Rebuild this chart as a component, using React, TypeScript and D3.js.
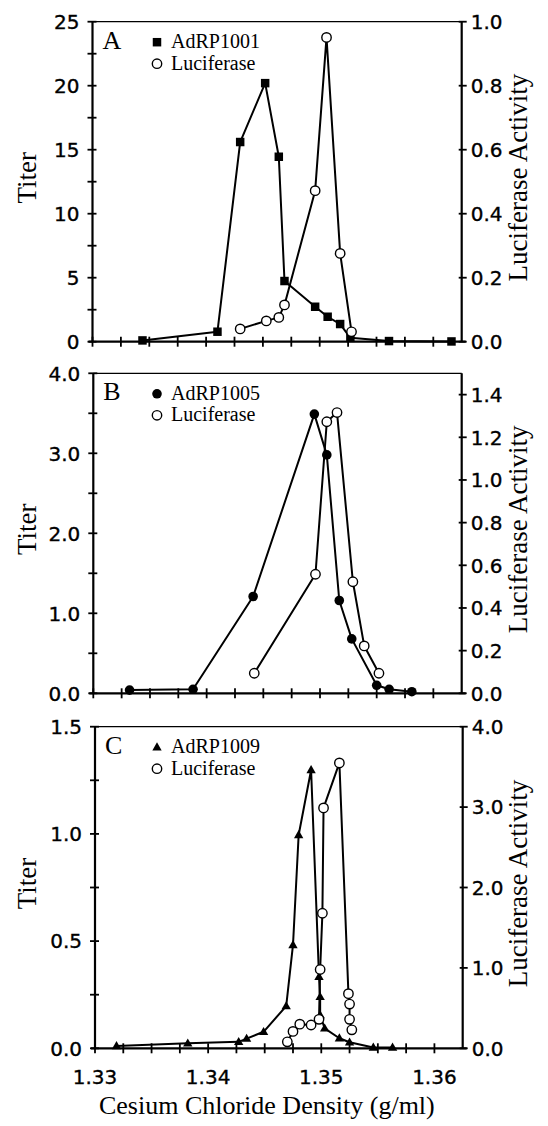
import React from "react";
import * as d3 from "d3";

// ---------- data ----------
// Panel A
const densityA_virus = [1.3344, 1.341, 1.343, 1.3452, 1.3464, 1.3469, 1.3496, 1.3507, 1.3518, 1.3527, 1.3561, 1.3616];
const titerA_virus = [0.1, 0.78, 15.6, 20.2, 14.45, 4.74, 2.73, 1.95, 1.38, 0.3, 0.05, 0.02];
const densityA_luc = [1.343, 1.3453, 1.3464, 1.3469, 1.3496, 1.3506, 1.3518, 1.3528];
const activityA_luc = [0.04, 0.065, 0.076, 0.115, 0.472, 0.951, 0.276, 0.031];

// Panel B
const densityB_virus = [1.3332, 1.3388, 1.3441, 1.3495, 1.3506, 1.3517, 1.3528, 1.355, 1.3561, 1.3581];
const titerB_virus = [0.04, 0.05, 1.21, 3.49, 2.98, 1.16, 0.68, 0.1, 0.05, 0.02];
const densityB_luc = [1.3442, 1.3496, 1.3506, 1.3515, 1.3529, 1.3539, 1.3552];
const activityB_luc = [0.094, 0.558, 1.273, 1.316, 0.523, 0.222, 0.094];

// Panel C
const densityC_virus = [1.3319, 1.3382, 1.3427, 1.3434, 1.3449, 1.3469, 1.3475, 1.348, 1.3491, 1.3498, 1.3499, 1.3499, 1.3503, 1.3516, 1.3525, 1.3546, 1.3563];
const titerC_virus = [0.011, 0.023, 0.03, 0.045, 0.077, 0.197, 0.482, 0.995, 1.298, 0.334, 0.24, 0.155, 0.093, 0.047, 0.028, 0.004, 0.004];
const densityC_luc = [1.347, 1.3475, 1.3481, 1.3491, 1.3498, 1.3499, 1.3501, 1.3502, 1.3516, 1.3524, 1.3525, 1.3525, 1.3527];
const activityC_luc = [0.08, 0.21, 0.3, 0.29, 0.36, 0.98, 1.68, 2.99, 3.55, 0.68, 0.55, 0.36, 0.23];

const panelLetters = ["A", "B", "C"];
const virusNames = ["AdRP1001", "AdRP1005", "AdRP1009"];
const lucName = "Luciferase";
const xTickLabels = ["1.33", "1.34", "1.35", "1.36"];
const xDomain = [1.33, 1.3625];
const leftDomains = [[0, 25], [0, 4], [0, 1.5]];
const leftMajor = [[0, 5, 10, 15, 20, 25], [0, 1, 2, 3, 4], [0, 0.5, 1, 1.5]];
const leftMinorStep = [2.5, 0.5, 0.25];
const leftFmt = ["d", ".1f", ".1f"];
const rightDomains = [[0, 1], [0, 1.5], [0, 4]];
const rightMajor = [[0, 0.2, 0.4, 0.6, 0.8, 1.0], [0, 0.2, 0.4, 0.6, 0.8, 1.0, 1.2, 1.4], [0, 1, 2, 3, 4]];
const markerTypes = ["square", "dot", "triangle"];

const xAxisTitle = "Cesium Chloride Density (g/ml)";
const yLeftTitle = "Titer";
const yRightTitle = "Luciferase Activity";

// ---------- layout ----------
const frames = [
  { left: 92.5, right: 461.7, top: 21.7, bottom: 341.7 },
  { left: 93.3, right: 461.7, top: 373.3, bottom: 693.3 },
  { left: 95, right: 462.7, top: 726.7, bottom: 1048.3 },
];

const series = [
  { vx: densityA_virus, vy: titerA_virus, lx: densityA_luc, ly: activityA_luc },
  { vx: densityB_virus, vy: titerB_virus, lx: densityB_luc, ly: activityB_luc },
  { vx: densityC_virus, vy: titerC_virus, lx: densityC_luc, ly: activityC_luc },
];

const SANS = "'DejaVu Sans', sans-serif";
const SERIF = "'Liberation Serif', 'Times New Roman', serif";

function Marker({ type, x, y }: { type: string; x: number; y: number }) {
  if (type === "square") {
    return <path d={d3.symbol(d3.symbolSquare, 72)()!} transform={`translate(${x},${y})`} fill="#000" />;
  }
  if (type === "triangle") {
    return <path d={d3.symbol(d3.symbolTriangle, 38)()!} transform={`translate(${x},${y + 0.5})`} fill="#000" />;
  }
  if (type === "dot") {
    return <circle cx={x} cy={y} r={4.8} fill="#000" />;
  }
  return <circle cx={x} cy={y} r={4.7} fill="#fff" stroke="#000" strokeWidth={1.4} />;
}

function Panel({ i }: { i: number }) {
  const f = frames[i];
  const s = series[i];
  const x = d3.scaleLinear().domain(xDomain).range([f.left, f.right]);
  const yl = d3.scaleLinear().domain(leftDomains[i]).range([f.bottom, f.top]);
  const yr = d3.scaleLinear().domain(rightDomains[i]).range([f.bottom, f.top]);
  const line = d3.line<[number, number]>().x((d) => d[0]).y((d) => d[1]);
  const vPts: [number, number][] = s.vx.map((v, k) => [x(v), yl(s.vy[k])]);
  const lPts: [number, number][] = s.lx.map((v, k) => [x(v), yr(s.ly[k])]);
  const xTicks = d3.range(0, 13).map((k) => 1.33 + k * 0.0025);
  const ld = leftDomains[i];
  const minorTicks = d3.range(0, Math.round((ld[1] - ld[0]) / leftMinorStep[i]) + 1).map((k) => ld[0] + k * leftMinorStep[i]);
  const fmt = d3.format(leftFmt[i]);
  const mt = markerTypes[i];
  const cx = (f.left + f.right) / 2;
  const cy = (f.top + f.bottom) / 2;
  const tickText = { fontFamily: SANS, fontSize: 20, stroke: "#000", strokeWidth: 0.35 } as const;
  return (
    <g>
      {/* frame */}
      <line x1={f.left} x2={f.right} y1={f.top} y2={f.top} stroke="#000" strokeWidth={1.2} />
      <line x1={f.left} x2={f.left} y1={f.top} y2={f.bottom} stroke="#000" strokeWidth={2.2} />
      <line x1={f.right} x2={f.right} y1={f.top} y2={f.bottom} stroke="#000" strokeWidth={2.2} />
      <line x1={f.left - 4} x2={f.right + 4} y1={f.bottom} y2={f.bottom} stroke="#000" strokeWidth={2.2} />
      {/* x ticks */}
      {xTicks.map((t, k) => (
        <line key={"xt" + k} x1={x(t)} x2={x(t)} y1={f.bottom - 5} y2={f.bottom + 5} stroke="#000" strokeWidth={1.8} />
      ))}
      {/* left ticks */}
      {minorTicks.map((t, k) => (
        <line key={"lt" + k} x1={f.left - 5} x2={f.left + 4} y1={yl(t)} y2={yl(t)} stroke="#000" strokeWidth={1.8} />
      ))}
      {leftMajor[i].map((t, k) => (
        <text key={"ll" + k} x={f.left - 13} y={yl(t)} dy="0.36em" textAnchor="end" {...tickText}>
          {fmt(t)}
        </text>
      ))}
      {/* right ticks */}
      {rightMajor[i].map((t, k) => (
        <g key={"rt" + k}>
          <line x1={f.right - 3} x2={f.right + 5} y1={yr(t)} y2={yr(t)} stroke="#000" strokeWidth={1.8} />
          <text x={f.right + 9} y={yr(t)} dy="0.36em" textAnchor="start" {...tickText}>
            {d3.format(".1f")(t)}
          </text>
        </g>
      ))}
      {/* axis titles */}
      <text transform={`translate(36,${cy - 4}) rotate(-90)`} textAnchor="middle" fontFamily={SERIF} fontSize={27}>
        {yLeftTitle}
      </text>
      <text transform={`translate(527,${cy - 4}) rotate(-90)`} textAnchor="middle" fontFamily={SERIF} fontSize={27}>
        {yRightTitle}
      </text>
      {/* lines */}
      <path d={line(vPts)!} fill="none" stroke="#000" strokeWidth={2} strokeLinejoin="round" />
      <path d={line(lPts)!} fill="none" stroke="#000" strokeWidth={2} strokeLinejoin="round" />
      {vPts.map((p, k) => (
        <Marker key={"v" + k} type={mt} x={p[0]} y={p[1]} />
      ))}
      {lPts.map((p, k) => (
        <Marker key={"l" + k} type="open" x={p[0]} y={p[1]} />
      ))}
      {/* legend */}
      <text x={f.left + 10} y={f.top + 27} fontFamily={SERIF} fontSize={26}>
        {panelLetters[i]}
      </text>
      <Marker type={mt} x={157} y={f.top + 20.5} />
      <text x={171} y={f.top + 26.5} fontFamily={SERIF} fontSize={20}>
        {virusNames[i]}
      </text>
      <Marker type="open" x={157} y={f.top + 42} />
      <text x={171} y={f.top + 48} fontFamily={SERIF} fontSize={20}>
        {lucName}
      </text>
      {i === 2 && (
        <g>
          {xTickLabels.map((l, k) => (
            <text key={"xl" + k} x={x(+l)} y={1084} textAnchor="middle" {...tickText}>
              {l}
            </text>
          ))}
          <text x={cx - 12} y={1114} textAnchor="middle" fontFamily={SERIF} fontSize={26}>
            {xAxisTitle}
          </text>
        </g>
      )}
    </g>
  );
}

export default function App() {
  return (
    <svg width={548} height={1126} style={{ position: "absolute", left: 0, top: 0, background: "#fff" }}>
      <rect width={548} height={1126} fill="#fff" />
      {[0, 1, 2].map((i) => (
        <Panel key={i} i={i} />
      ))}
    </svg>
  );
}
